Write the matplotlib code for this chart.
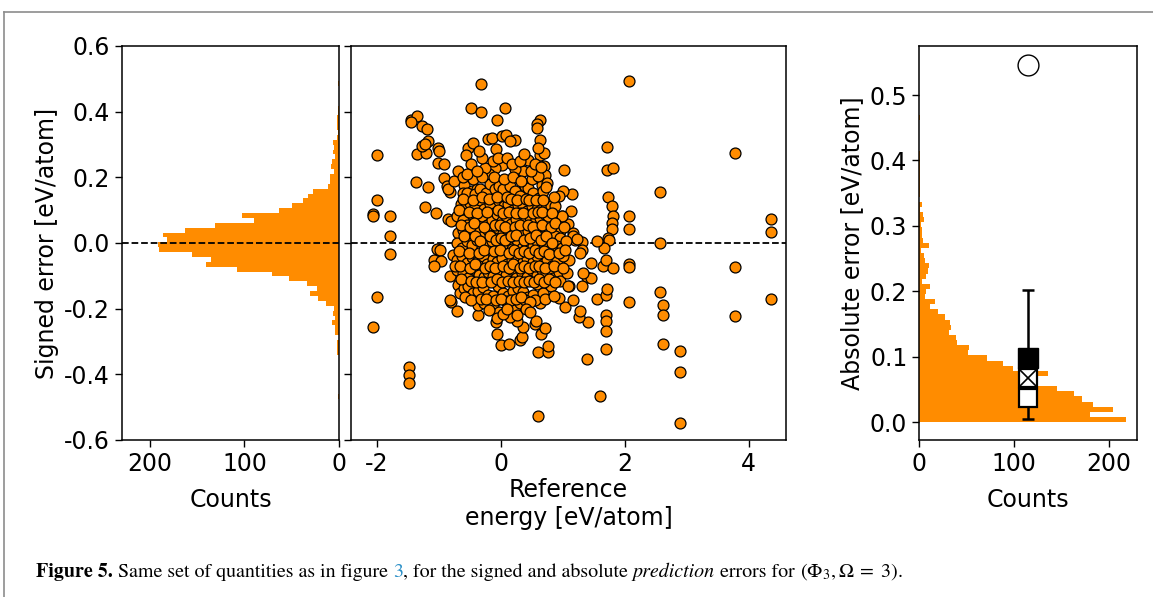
import matplotlib
matplotlib.use("Agg")
import numpy as np
import matplotlib.pyplot as plt
from matplotlib.lines import Line2D

plt.rcParams["axes.unicode_minus"] = False
plt.rcParams["mathtext.fontset"] = "stix"

# signed-error histogram: 70 bins between min and max error
signed_lo, signed_hi = -0.548, 0.4925
signed_counts = [0, 0, 0, 0, 0, 1, 0, 0, 0, 0,
                 0, 0, 0, 0, 2, 2, 2, 0, 4, 4,
                 7, 4, 6, 5, 14, 22, 31, 23, 34, 53,
                 71, 108, 141, 135, 156, 190, 191, 182, 186, 163,
                 131, 90, 103, 63, 50, 38, 33, 27, 12, 9,
                 9, 5, 8, 7, 4, 6, 5, 6, 2, 1,
                 2, 2, 2, 1, 1, 0, 0, 0, 0, 1]

# absolute-error histogram: 70 bins between 0 and max error
abs_lo, abs_hi = 0.0, 0.548
abs_counts = [218, 180, 204, 183, 171, 163, 145, 122, 118, 136,
              99, 88, 71, 52, 53, 40, 39, 31, 34, 33,
              27, 20, 12, 17, 6, 7, 12, 3, 7, 9,
              10, 6, 5, 2, 10, 4, 3, 3, 2, 5,
              4, 1, 3, 0, 1, 1, 1, 1, 1, 1,
              1, 1, 1, 0, 0, 0, 0, 0, 0, 1,
              0, 0, 0, 0, 0, 0, 0, 0, 0, 0]

# summary statistics of the absolute error
stat_x = 115
whisker_lo, whisker_hi = 0.005, 0.202
median_err = 0.037
mae_err = 0.067
rmse_err = 0.098
max_err = 0.546

# reference energy vs signed error (eV/atom)
scatter_pts = np.array([
    (-0.317, 0.483), (2.065, 0.492), (-0.489, 0.41), (-0.32, 0.399), (0.059, 0.412), (-0.07, 0.375),
    (-1.457, 0.375), (-1.36, 0.388), (-1.457, 0.367), (-1.28, 0.356), (-1.188, 0.348),
    (-1.995, 0.268), (-1.35, 0.27), (-1.215, 0.275), (-1.27, 0.295), (-1.183, 0.31), (-1.23, 0.30),
    (-1.01, 0.29), (-1.0, 0.279), (-1.02, 0.244), (-0.925, 0.242),
    (-1.366, 0.185), (-1.183, 0.17), (-0.925, 0.198), (-0.866, 0.173), (-0.823, 0.156), (-0.86, 0.165),
    (-1.22, 0.11), (-1.04, 0.09), (-0.85, 0.074), (-0.806, 0.066),
    (-1.995, 0.132), (-2.06, 0.0875), (-2.06, 0.081), (-1.79, 0.081), (-1.79, 0.022), (-1.79, -0.033),
    (-1.995, -0.163), (-2.06, -0.256), (-1.478, -0.377), (-1.478, -0.402), (-1.478, -0.425),
    (-1.03, -0.017), (-0.984, -0.022), (-1.075, -0.051), (-0.973, -0.054), (-1.086, -0.07),
    (-0.80, -0.179), (-0.715, -0.206), (-0.82, -0.175), (-0.371, -0.22),
    (-0.08, -0.241), (-0.065, -0.277), (0.005, -0.312), (0.129, -0.307),
    (0.306, -0.295), (0.333, -0.287), (0.355, -0.256), (0.253, -0.239),
    (0.59, -0.333), (0.753, -0.333), (0.758, -0.315), (0.645, -0.277), (0.704, -0.26), (0.554, -0.246), (0.56, -0.239),
    (0.59, -0.527), (1.597, -0.466), (1.392, -0.354), (1.398, -0.242), (1.263, -0.226), (1.274, -0.206),
    (1.038, -0.195), (1.167, -0.175), (1.543, -0.171),
    (1.699, -0.159), (1.71, -0.14), (1.699, -0.219), (1.699, -0.237), (1.699, -0.267), (1.699, -0.322),
    (2.07, -0.181), (2.565, -0.148), (2.618, -0.188), (2.618, -0.22), (2.618, -0.309),
    (2.882, -0.329), (2.882, -0.394), (2.882, -0.547), (3.774, -0.074), (3.774, -0.223),
    (4.355, -0.17), (4.355, 0.072), (4.355, 0.032), (3.774, 0.273), (2.565, 0.155), (2.565, 0.0),
    (2.07, 0.083), (2.07, 0.043), (2.07, -0.063), (2.07, -0.074),
    (1.71, 0.293), (1.71, 0.221), (1.806, 0.228),
    (1.731, 0.14), (1.785, 0.112), (1.812, 0.081), (1.785, 0.061), (1.785, 0.043), (1.731, 0.015),
    (1.747, 0.01), (1.667, -0.015), (1.645, -0.069), (1.688, -0.053), (1.812, -0.075),
    (1.543, 0.005), (1.457, -0.061), (1.387, -0.104), (1.457, -0.108), (1.30, -0.132), (1.323, -0.092),
    (1.016, 0.222), (1.15, 0.15), (1.005, 0.158), (0.93, 0.142), (1.124, 0.096), (1.08, 0.058), (0.984, 0.081),
    (1.306, 0.003), (1.30, -0.02), (1.269, -0.031), (1.167, 0.031), (1.193, 0.01), (1.10, -0.053), (1.102, -0.132),
    (0.634, 0.374), (0.575, 0.361), (0.581, 0.35), (0.629, 0.313), (0.624, 0.268), (0.694, 0.275),
    (0.694, 0.234), (0.715, 0.207), (0.661, 0.176),
    (-0.532, 0.29), (-0.457, 0.303), (-0.565, 0.267), (-0.489, 0.242),
    (-0.21, 0.316), (-0.15, 0.319), (-0.086, 0.285), (0.011, 0.326), (0.075, 0.329), (0.226, 0.313), (0.145, 0.31),
    (0.43, 0.252), (0.36, 0.219), (0.231, 0.226), (0.016, 0.236), (-0.091, 0.227), (-0.194, 0.209), (-0.258, 0.227),
    (-0.602, 0.176), (-0.608, 0.153), (-0.548, 0.14), (-0.473, 0.158), (-0.382, 0.165), (-0.387, 0.137), (-0.247, 0.134),
    # dense core
    (-0.554, 0.153), (-0.419, 0.148), (-0.339, 0.163), (-0.247, 0.153), (-0.183, 0.181), (-0.097, 0.163),
    (-0.027, 0.173), (0.038, 0.165), (0.145, 0.173), (0.226, 0.158), (0.306, 0.142), (0.387, 0.175),
    (0.441, 0.168), (0.511, 0.153), (0.608, 0.137), (0.683, 0.158), (0.747, 0.183), (0.737, 0.122),
    (-0.65, 0.12), (-0.58, 0.107), (-0.5, 0.122), (-0.419, 0.112), (-0.339, 0.132), (-0.274, 0.102),
    (-0.177, 0.12), (-0.108, 0.092), (-0.027, 0.127), (0.048, 0.112), (0.118, 0.12), (0.199, 0.1),
    (0.28, 0.117), (0.349, 0.112), (0.425, 0.097), (0.5, 0.114), (0.575, 0.102), (0.656, 0.117),
    (0.726, 0.107), (0.801, 0.114), (0.871, 0.112), (0.984, 0.081),
    (-0.715, 0.083), (-0.618, 0.071), (-0.554, 0.056), (-0.473, 0.087), (-0.392, 0.066), (-0.312, 0.081),
    (-0.231, 0.056), (-0.151, 0.071), (-0.07, 0.087), (0.011, 0.066), (0.081, 0.081), (0.156, 0.059),
    (0.242, 0.073), (0.312, 0.092), (0.387, 0.063), (0.468, 0.079), (0.548, 0.063), (0.629, 0.076),
    (0.71, 0.087), (0.753, 0.081), (0.952, 0.038), (0.93, 0.046),
    (-0.69, 0.031), (-0.608, 0.041), (-0.527, 0.015), (-0.446, 0.046), (-0.366, 0.033), (-0.285, 0.02),
    (-0.204, 0.041), (-0.124, 0.025), (-0.043, 0.046), (0.038, 0.031), (0.118, 0.015), (0.199, 0.041),
    (0.28, 0.025), (0.36, 0.036), (0.441, 0.036), (0.522, 0.02), (0.602, 0.046), (0.683, 0.02),
    (0.78, 0.005), (0.871, 0.02), (0.952, 0.015), (1.156, 0.022), (1.231, 0.012),
    (-0.715, 0.0), (-0.634, -0.015), (-0.554, 0.005), (-0.473, -0.005), (-0.392, 0.01), (-0.312, -0.015),
    (-0.231, -0.005), (-0.151, 0.005), (-0.07, -0.02), (0.027, -0.036), (0.091, -0.005), (0.172, -0.018),
    (0.253, 0.01), (0.333, -0.015), (0.414, -0.005), (0.511, -0.01), (0.586, 0.005), (0.656, -0.02),
    (0.737, -0.005), (0.817, -0.02), (0.898, -0.01), (0.978, -0.015),
    (-0.78, -0.036), (-0.715, -0.051), (-0.634, -0.039), (-0.554, -0.061), (-0.473, -0.043), (-0.382, -0.059),
    (-0.296, -0.041), (-0.22, -0.063), (-0.134, -0.049), (-0.059, -0.059), (0.011, -0.046), (0.091, -0.063),
    (0.172, -0.051), (0.253, -0.036), (0.349, -0.059), (0.425, -0.046), (0.511, -0.059), (0.586, -0.041),
    (0.672, -0.063), (0.747, -0.051), (0.817, -0.071), (0.898, -0.056), (0.995, -0.041),
    (-0.82, -0.102), (-0.704, -0.081), (-0.608, -0.092), (-0.527, -0.107), (-0.446, -0.079), (-0.349, -0.097),
    (-0.274, -0.104), (-0.204, -0.087), (-0.124, -0.102), (-0.027, -0.081), (0.075, -0.097), (0.156, -0.079),
    (0.242, -0.107), (0.333, -0.092), (0.414, -0.104), (0.495, -0.081), (0.575, -0.097), (0.656, -0.083),
    (0.726, -0.092), (0.801, -0.081), (0.844, -0.107), (0.941, -0.087), (0.952, -0.117), (1.059, -0.092),
    (-0.69, -0.127), (-0.661, -0.153), (-0.597, -0.137), (-0.527, -0.13), (-0.446, -0.153), (-0.366, -0.145),
    (-0.285, -0.134), (-0.204, -0.158), (-0.124, -0.161), (-0.043, -0.132), (0.038, -0.151), (0.118, -0.161),
    (0.199, -0.145), (0.28, -0.137), (0.36, -0.148), (0.441, -0.163), (0.511, -0.158), (0.586, -0.124),
    (0.672, -0.153), (0.801, -0.132), (0.941, -0.168), (1.086, -0.132),
    (-0.366, -0.188), (-0.274, -0.183), (-0.124, -0.188), (-0.027, -0.209), (0.075, -0.178), (0.145, -0.224),
    (0.226, -0.195), (0.306, -0.183), (0.387, -0.173), (0.629, -0.183), (0.548, -0.173),
    # overlapping points between the rows above
    (-0.45, 0.195), (-0.3, 0.2), (-0.12, 0.2), (0.05, 0.195), (0.2, 0.2), (0.33, 0.19), (0.5, 0.195), (0.6, 0.205),
    (-0.62, 0.135), (-0.45, 0.13), (-0.3, 0.14), (-0.2, 0.135), (-0.06, 0.14), (0.09, 0.14), (0.17, 0.135),
    (0.26, 0.13), (0.4, 0.135), (0.46, 0.13), (0.56, 0.13), (0.68, 0.13), (0.85, 0.14),
    (-0.68, 0.1), (-0.52, 0.095), (-0.38, 0.09), (-0.22, 0.095), (-0.04, 0.1), (0.03, 0.09), (0.13, 0.095),
    (0.24, 0.09), (0.36, 0.09), (0.52, 0.09), (0.6, 0.095), (0.67, 0.095), (0.82, 0.09),
    (-0.64, 0.055), (-0.5, 0.05), (-0.43, 0.06), (-0.27, 0.05), (-0.1, 0.055), (-0.02, 0.055), (0.06, 0.05),
    (0.22, 0.05), (0.3, 0.055), (0.43, 0.055), (0.51, 0.05), (0.66, 0.055), (0.8, 0.05), (0.88, 0.06), (1.02, 0.05),
    (-0.6, 0.02), (-0.42, 0.02), (-0.33, 0.005), (-0.17, 0.02), (-0.08, 0.01), (0.0, 0.015), (0.07, 0.01),
    (0.16, 0.02), (0.24, 0.025), (0.38, 0.01), (0.47, 0.015), (0.56, 0.025), (0.64, 0.01), (0.72, 0.02),
    (0.83, 0.0), (1.05, 0.005),
    (-0.68, -0.025), (-0.52, -0.03), (-0.35, -0.03), (-0.27, -0.02), (-0.11, -0.025), (-0.02, -0.02),
    (0.13, -0.03), (0.21, -0.02), (0.29, -0.03), (0.37, -0.025), (0.46, -0.03), (0.55, -0.02), (0.62, -0.03),
    (0.7, -0.025), (0.78, -0.035), (0.94, -0.03), (1.03, -0.02),
    (-0.74, -0.07), (-0.66, -0.07), (-0.5, -0.075), (-0.42, -0.065), (-0.26, -0.075), (-0.17, -0.07),
    (-0.09, -0.075), (0.04, -0.07), (0.13, -0.075), (0.2, -0.065), (0.3, -0.075), (0.38, -0.07), (0.46, -0.075),
    (0.55, -0.07), (0.62, -0.07), (0.71, -0.075), (0.86, -0.07), (1.0, -0.075),
    (-0.65, -0.11), (-0.48, -0.115), (-0.4, -0.12), (-0.31, -0.12), (-0.16, -0.12), (-0.07, -0.11),
    (0.02, -0.12), (0.11, -0.115), (0.2, -0.12), (0.29, -0.115), (0.37, -0.12), (0.46, -0.115), (0.53, -0.12),
    (0.62, -0.11), (0.69, -0.12), (0.77, -0.11), (0.88, -0.12),
    (-0.58, -0.165), (-0.49, -0.175), (-0.32, -0.17), (-0.24, -0.17), (-0.08, -0.175), (0.0, -0.17),
    (0.16, -0.175), (0.24, -0.17), (0.33, -0.165), (0.47, -0.18), (0.71, -0.17), (0.86, -0.16),
    (-0.2, -0.205), (-0.06, -0.23), (0.03, -0.215), (0.1, -0.2), (0.26, -0.22), (0.4, -0.2), (0.47, -0.21),
    (-0.75, 0.19), (-0.7, 0.22), (-0.62, 0.2), (-0.55, 0.21), (-0.38, 0.22), (-0.3, 0.26), (-0.35, 0.28),
    (-0.13, 0.25), (-0.05, 0.26), (0.1, 0.26), (0.18, 0.24), (0.3, 0.25), (0.38, 0.27), (0.48, 0.22),
    (0.55, 0.24), (0.6, 0.29), (0.64, 0.23), (0.72, 0.17),
])

orange = "darkorange"
fs = 17

fig = plt.figure(figsize=(11.53, 5.97), dpi=100)

ax_l = fig.add_axes([0.1058, 0.2630, 0.1882, 0.6600])
ax_s = fig.add_axes([0.3044, 0.2630, 0.3773, 0.6600])
ax_r = fig.add_axes([0.7971, 0.2630, 0.1891, 0.6600])

# left: horizontal histogram of signed errors
edges = np.linspace(signed_lo, signed_hi, len(signed_counts) + 1)
ax_l.barh(edges[:-1], signed_counts, height=np.diff(edges), align="edge",
          color=orange, linewidth=0)
ax_l.axhline(0, color="k", ls="--", lw=1.3)
ax_l.set_xlim(229.6, 0)
ax_l.set_ylim(-0.6, 0.6)
ax_l.set_xticks([200, 100, 0])
ax_l.set_yticks(np.arange(-0.6, 0.61, 0.2))
ax_l.set_yticklabels(["%.1f" % v for v in np.arange(-0.6, 0.61, 0.2)])
ax_l.set_xlabel("Counts", fontsize=fs, labelpad=8.5)
ax_l.set_ylabel("Signed error [eV/atom]", fontsize=fs)

# middle: scatter of signed error vs reference energy
ax_s.scatter(scatter_pts[:, 0], scatter_pts[:, 1], s=62, c=orange,
             edgecolors="k", linewidths=0.9, zorder=3)
ax_s.axhline(0, color="k", ls="--", lw=1.3, zorder=2)
ax_s.set_xlim(-2.42, 4.6)
ax_s.set_ylim(-0.6, 0.6)
ax_s.set_xticks([-2, 0, 2, 4])
ax_s.set_yticks(np.arange(-0.6, 0.61, 0.2))
ax_s.set_yticklabels([])
ax_s.set_xlabel("Reference\nenergy [eV/atom]", fontsize=fs, labelpad=1.8)

# right: histogram of absolute errors plus summary markers
aedges = np.linspace(abs_lo, abs_hi, len(abs_counts) + 1)
ax_r.barh(aedges[:-1], abs_counts, height=np.diff(aedges), align="edge",
          color=orange, linewidth=0)
ax_r.errorbar([stat_x], [(whisker_lo + whisker_hi) / 2],
              yerr=[[(whisker_hi - whisker_lo) / 2], [(whisker_hi - whisker_lo) / 2]],
              fmt="none", ecolor="k", elinewidth=1.8, capsize=4, capthick=1.8, zorder=3)
ax_r.plot(stat_x, median_err, "s", ms=13, mfc="white", mec="k", mew=1.6, zorder=4)
ax_r.plot(stat_x, mae_err, "s", ms=13, mfc="white", mec="k", mew=1.6, zorder=4)
ax_r.plot(stat_x, mae_err, "x", ms=13.5, mec="k", mew=1.2, zorder=5)
ax_r.plot(stat_x, rmse_err, "s", ms=15, mfc="k", mec="k", zorder=5)
ax_r.plot(stat_x, max_err, "o", ms=15, mfc="white", mec="k", mew=1.0, zorder=4)
ax_r.set_xlim(0, 229.5)
ax_r.set_ylim(-0.0275, 0.575)
ax_r.set_xticks([0, 100, 200])
ax_r.set_yticks(np.arange(0, 0.51, 0.1))
ax_r.set_yticklabels(["%.1f" % v for v in np.arange(0, 0.51, 0.1)])
ax_r.set_xlabel("Counts", fontsize=fs, labelpad=8.5)
ax_r.set_ylabel("Absolute error [eV/atom]", fontsize=fs)

for ax in (ax_l, ax_s, ax_r):
    ax.tick_params(labelsize=fs, length=5, width=1)
    for sp in ax.spines.values():
        sp.set_linewidth(1.1)

# page frame
fig.add_artist(Line2D([4 / 1153, 1], [1 - 12 / 597] * 2, color="#8c8c8c", lw=1.2))
fig.add_artist(Line2D([4 / 1153] * 2, [0, 1 - 12 / 597], color="#8c8c8c", lw=1.2))

# caption, built piece by piece
pieces = [
    ("Figure 5.", "bold", "normal", "k"),
    (" Same set of quantities as in figure ", "normal", "normal", "k"),
    ("3", "normal", "normal", "#2a8fc7"),
    (", for the signed and absolute ", "normal", "normal", "k"),
    ("prediction", "normal", "italic", "k"),
    (" errors for ", "normal", "normal", "k"),
    (r"$(\Phi_3, \mathit{\Omega}\;=\;3)$.", "normal", "normal", "k"),
]
renderer = fig.canvas.get_renderer()
x = 36 / 1153
y = 1 - 577 / 597
for txt, weight, style, col in pieces:
    t = fig.text(x, y, txt, fontsize=14.4, family="STIXGeneral", weight=weight,
                 style=style, color=col, va="baseline", ha="left")
    bb = t.get_window_extent(renderer)
    x += bb.width / fig.bbox.width

fig.savefig("out.png", dpi=100)
